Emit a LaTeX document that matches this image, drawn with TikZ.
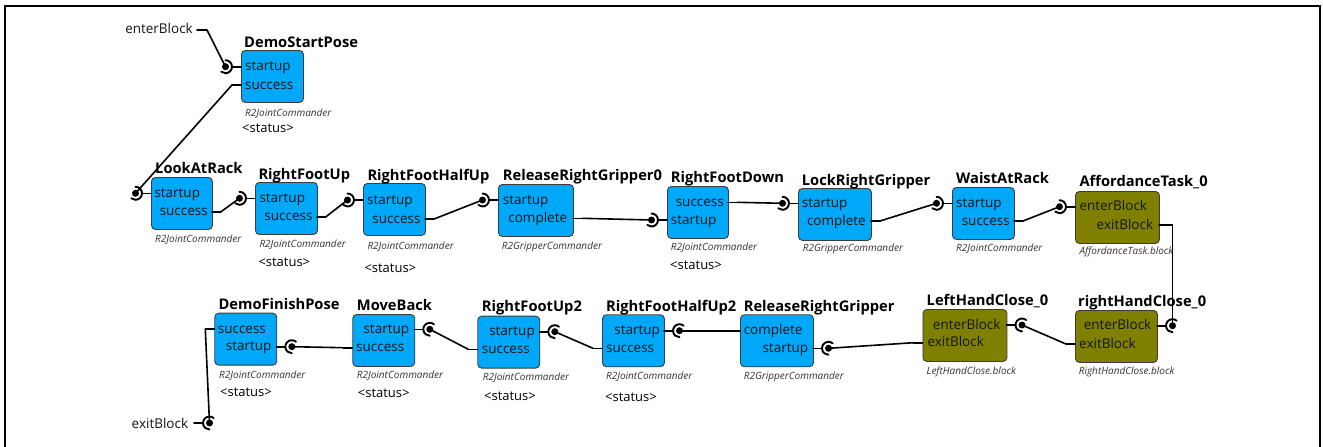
\documentclass[tikz,border=0pt]{standalone}
\usepackage{fontspec}
\setmainfont{Open Sans}
\usetikzlibrary{calc}
\definecolor{jointblue}{RGB}{0,168,250}
\definecolor{blockolive}{RGB}{128,128,0}
\definecolor{edgegray}{RGB}{60,60,60}
\tikzset{
  blk/.style={draw=edgegray, line width=0.9pt, rounded corners=4pt, minimum height=52pt, inner sep=0pt, anchor=north west},
  cmdbox/.style={blk, fill=jointblue},
  subbox/.style={blk, fill=blockolive},
  blktitle/.style={font=\fontsize{14.7}{16}\selectfont\bfseries, anchor=base west, inner sep=0pt},
  ptlabel/.style={font=\fontsize{13.5}{15}\selectfont, inner sep=0pt, text=black!92},
  cmdname/.style={font=\fontsize{10}{12}\selectfont\itshape, text=black!80, anchor=base west, inner sep=0pt},
  stat/.style={font=\fontsize{13}{15}\selectfont, anchor=base west, inner sep=0pt},
  wire/.style={line width=1.6pt, line cap=round},
  cup/.style={line width=1.9pt, line cap=round},
}
% input socket on the left edge of a block: name, edge x, y
\newcommand\sockL[3]{%
  \coordinate (#1) at (#2-15.5,#3);
  \draw[wire] (#2,#3) -- (#2-9,#3);
  \draw[cup] ($(#1)+(90:6.5pt)$) arc[start angle=90,end angle=-130,radius=6.5pt];
  \fill (#1) circle[radius=3.5pt];}
% input socket on the right edge of a block
\newcommand\sockR[3]{%
  \coordinate (#1) at (#2+15.5,#3);
  \draw[wire] (#2,#3) -- (#2+9,#3);
  \draw[cup] ($(#1)+(50:6.5pt)$) arc[start angle=50,end angle=270,radius=6.5pt];
  \fill (#1) circle[radius=3.5pt];}
% output stubs
\newcommand\stubL[3]{\coordinate (#1) at (#2-9,#3); \draw[wire] (#2,#3) -- (#1);}
\newcommand\stubR[3]{\coordinate (#1) at (#2+9,#3); \draw[wire] (#2,#3) -- (#1);}

\begin{document}
\begin{tikzpicture}[x=1pt,y=-1pt]
\useasboundingbox (0,0) rectangle (1323,447);
\fill[white] (0,0) rectangle (1323,447);
\draw[line width=2pt] (5,448) -- (5,6) -- (1320,6) -- (1320,448);

% ---------- top row ----------
\node[ptlabel, anchor=base east] (enter) at (193,34) {enterBlock};
\coordinate (enter-s) at (197,30);
\coordinate (enter-out) at (207,30);
\draw[wire] (enter-s) -- (enter-out);

% DemoStartPose
\node[cmdbox, minimum width=62pt] (dsp) at (241,50) {};
\node[blktitle] (dsp-t) at (244,47) {DemoStartPose};
\node[ptlabel, anchor=base west] (dsp-p1) at (245,70.5) {startup};
\node[ptlabel, anchor=base west] (dsp-p2) at (245,89) {success};
\node[cmdname] (dsp-k) at (245,116) {R2JointCommander};
\node[stat] (dsp-s) at (242,132) {<status>};
\sockL{dsp-in}{241}{66.7}
\stubL{dsp-out}{241}{85}

% LookAtRack
\node[cmdbox, minimum width=61pt] (lar) at (151,177) {};
\node[blktitle] (lar-t) at (155,173.3) {LookAtRack};
\node[ptlabel, anchor=base west] (lar-p1) at (154.3,197.3) {startup};
\node[ptlabel, anchor=base east] (lar-p2) at (208,215.7) {success};
\node[cmdname] (lar-k) at (155,242.3) {R2JointCommander};
\sockL{lar-in}{151}{193.3}
\stubR{lar-out}{212}{211.7}

% RightFootUp
\node[cmdbox, minimum width=62pt] (rfu) at (255,182) {};
\node[blktitle] (rfu-t) at (258.3,179) {RightFootUp};
\node[ptlabel, anchor=base west] (rfu-p1) at (259.3,202.3) {startup};
\node[ptlabel, anchor=base east] (rfu-p2) at (312.7,220.7) {success};
\node[cmdname] (rfu-k) at (259.3,247) {R2JointCommander};
\node[stat] (rfu-s) at (258.3,266.7) {<status>};
\sockL{rfu-in}{255}{198.3}
\stubR{rfu-out}{317}{216.7}

% RightFootHalfUp
\node[cmdbox, minimum width=62pt] (rfh) at (363,183) {};
\node[blktitle] (rfh-t) at (367.3,180) {RightFootHalfUp};
\node[ptlabel, anchor=base west] (rfh-p1) at (367,204) {startup};
\node[ptlabel, anchor=base east] (rfh-p2) at (420.7,223) {success};
\node[cmdname] (rfh-k) at (367.3,249.7) {R2JointCommander};
\node[stat] (rfh-s) at (364.3,272.3) {<status>};
\sockL{rfh-in}{363}{200}
\stubR{rfh-out}{425}{219}

% ReleaseRightGripper0
\node[cmdbox, minimum width=75pt] (rrg0) at (498,184) {};
\node[blktitle] (rrg0-t) at (502.7,180) {ReleaseRightGripper0};
\node[ptlabel, anchor=base west] (rrg0-p1) at (502.7,204) {startup};
\node[ptlabel, anchor=base east] (rrg0-p2) at (567.3,222.3) {complete};
\node[cmdname] (rrg0-k) at (501.7,249) {R2GripperCommander};
\sockL{rrg0-in}{498}{200}
\stubR{rrg0-out}{573}{218.3}

% RightFootDown
\node[cmdbox, minimum width=61pt] (rfd) at (667,186) {};
\node[blktitle] (rfd-t) at (670.7,182.3) {RightFootDown};
\node[ptlabel, anchor=base east] (rfd-p1) at (724,206.3) {success};
\node[ptlabel, anchor=base west] (rfd-p2) at (670.7,224) {startup};
\node[cmdname] (rfd-k) at (670.7,250.7) {R2JointCommander};
\node[stat] (rfd-s) at (670,269.7) {<status>};
\stubR{rfd-out}{728}{202.3}
\sockL{rfd-in}{667}{220}

% LockRightGripper
\node[cmdbox, minimum width=73pt] (lrg) at (798,188) {};
\node[blktitle] (lrg-t) at (801.7,185) {LockRightGripper};
\node[ptlabel, anchor=base west] (lrg-p1) at (801.7,207.3) {startup};
\node[ptlabel, anchor=base east] (lrg-p2) at (866,225) {complete};
\node[cmdname] (lrg-k) at (802.7,251.3) {R2GripperCommander};
\sockL{lrg-in}{798}{203.3}
\stubR{lrg-out}{871}{221}

% WaistAtRack
\node[cmdbox, minimum width=62pt] (war) at (952,187) {};
\node[blktitle] (war-t) at (956,183.3) {WaistAtRack};
\node[ptlabel, anchor=base west] (war-p1) at (956,207.3) {startup};
\node[ptlabel, anchor=base east] (war-p2) at (1010,225) {success};
\node[cmdname] (war-k) at (956,251.3) {R2JointCommander};
\sockL{war-in}{952}{203.3}
\stubR{war-out}{1014}{221}

% AffordanceTask_0
\node[subbox, minimum width=84pt] (aff) at (1075,191) {};
\node[blktitle] (aff-t) at (1079.3,186.7) {AffordanceTask\_0};
\node[ptlabel, anchor=base west] (aff-p1) at (1079.3,210.7) {enterBlock};
\node[ptlabel, anchor=base east] (aff-p2) at (1153.3,229) {exitBlock};
\node[cmdname] (aff-k) at (1079.3,254.7) {AffordanceTask.block};
\sockL{aff-in}{1075}{206.7}
\stubR{aff-out}{1159}{225}

% ---------- bottom row ----------
% rightHandClose_0
\node[subbox, minimum width=82pt] (rhc) at (1075,310) {};
\node[blktitle] (rhc-t) at (1078,306.7) {rightHandClose\_0};
\node[ptlabel, anchor=base east] (rhc-p1) at (1151.5,329.7) {enterBlock};
\node[ptlabel, anchor=base west] (rhc-p2) at (1079,348) {exitBlock};
\node[cmdname] (rhc-k) at (1078.6,374.7) {RightHandClose.block};
\sockR{rhc-in}{1157}{325.7}
\stubL{rhc-out}{1075}{344}

% LeftHandClose_0
\node[subbox, minimum width=84pt] (lhc) at (922.5,309) {};
\node[blktitle] (lhc-t) at (926.5,305) {LeftHandClose\_0};
\node[ptlabel, anchor=base east] (lhc-p1) at (1000.7,329) {enterBlock};
\node[ptlabel, anchor=base west] (lhc-p2) at (927.3,346.7) {exitBlock};
\node[cmdname] (lhc-k) at (926.5,374) {LeftHandClose.block};
\sockR{lhc-in}{1006.5}{325}
\stubL{lhc-out}{922.5}{342.7}

% ReleaseRightGripper
\node[cmdbox, minimum width=73pt] (rrg) at (740,314.3) {};
\node[blktitle] (rrg-t) at (743.6,311.7) {ReleaseRightGripper};
\node[ptlabel, anchor=base west] (rrg-p1) at (743.6,334.7) {complete};
\node[ptlabel, anchor=base east] (rrg-p2) at (808.3,352.3) {startup};
\node[cmdname] (rrg-k) at (743.6,379) {R2GripperCommander};
\stubL{rrg-out}{740}{330.7}
\sockR{rrg-in}{813}{348.3}

% RightFootHalfUp2
\node[cmdbox, minimum width=62pt] (rfh2) at (602,314.3) {};
\node[blktitle] (rfh2-t) at (605.9,311.7) {RightFootHalfUp2};
\node[ptlabel, anchor=base east] (rfh2-p1) at (660.2,334.7) {startup};
\node[ptlabel, anchor=base west] (rfh2-p2) at (605.9,352.3) {success};
\node[cmdname] (rfh2-k) at (605.9,379) {R2JointCommander};
\node[stat] (rfh2-s) at (605,401.7) {<status>};
\sockR{rfh2-in}{664}{330.7}
\stubL{rfh2-out}{602}{348.3}

% RightFootUp2
\node[cmdbox, minimum width=62pt] (rfu2) at (477.3,315.7) {};
\node[blktitle] (rfu2-t) at (481.7,311.7) {RightFootUp2};
\node[ptlabel, anchor=base east] (rfu2-p1) at (535,335.7) {startup};
\node[ptlabel, anchor=base west] (rfu2-p2) at (481.7,353.3) {success};
\node[cmdname] (rfu2-k) at (482.7,380.3) {R2JointCommander};
\node[stat] (rfu2-s) at (484,400.7) {<status>};
\sockR{rfu2-in}{539.3}{331.7}
\stubL{rfu2-out}{477.3}{349.3}

% MoveBack
\node[cmdbox, minimum width=62pt] (mb) at (352.3,314) {};
\node[blktitle] (mb-t) at (356.7,310) {MoveBack};
\node[ptlabel, anchor=base east] (mb-p1) at (409.3,333.3) {startup};
\node[ptlabel, anchor=base west] (mb-p2) at (356,351.7) {success};
\node[cmdname] (mb-k) at (356.7,378.7) {R2JointCommander};
\node[stat] (mb-s) at (357.7,397.3) {<status>};
\sockR{mb-in}{414.3}{329.3}
\stubL{mb-out}{352.3}{347.7}

% DemoFinishPose
\node[cmdbox, minimum width=62pt] (dfp) at (214.3,312.7) {};
\node[blktitle] (dfp-t) at (218.3,309.3) {DemoFinishPose};
\node[ptlabel, anchor=base west] (dfp-p1) at (217.7,333) {success};
\node[ptlabel, anchor=base east] (dfp-p2) at (271.7,350.7) {startup};
\node[cmdname] (dfp-k) at (219,378) {R2JointCommander};
\node[stat] (dfp-s) at (220,396.7) {<status>};
\stubL{dfp-out}{214.3}{329}
\sockR{dfp-in}{276.3}{346.7}

% exit of the whole block
\node[ptlabel, anchor=base east] (exit) at (188.3,428.3) {exitBlock};
\sockR{exit-in}{194}{423}

% ---------- connections ----------
\draw[wire] (enter-out) -- (dsp-in);
\draw[wire] (dsp-out) -- (lar-in);
\draw[wire] (lar-out) -- (rfu-in);
\draw[wire] (rfu-out) -- (rfh-in);
\draw[wire] (rfh-out) -- (rrg0-in);
\draw[wire] (rrg0-out) -- (rfd-in);
\draw[wire] (rfd-out) -- (lrg-in);
\draw[wire] (lrg-out) -- (war-in);
\draw[wire] (war-out) -- (aff-in);
\draw[wire] (aff-out) -| (rhc-in);
\draw[wire] (rhc-out) -- (lhc-in);
\draw[wire] (lhc-out) -- (rrg-in);
\draw[wire] (rrg-out) -- (rfh2-in);
\draw[wire] (rfh2-out) -- (rfu2-in);
\draw[wire] (rfu2-out) -- (mb-in);
\draw[wire] (mb-out) -- (dfp-in);
\draw[wire] (dfp-out) -- (exit-in);
\end{tikzpicture}
\end{document}
